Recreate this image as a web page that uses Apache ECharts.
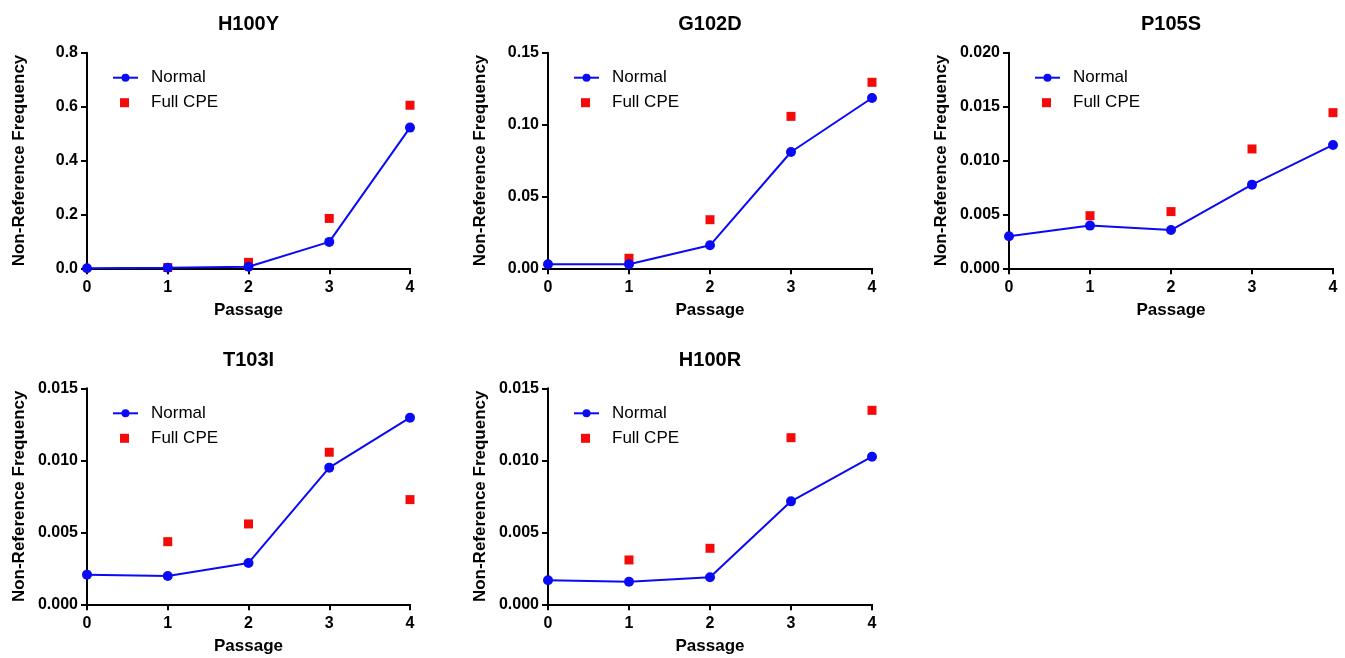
<!DOCTYPE html>
<html>
<head>
<meta charset="utf-8">
<script src="https://cdn.jsdelivr.net/npm/echarts@6/dist/echarts.min.js"></script>
<style>
html,body{margin:0;padding:0;background:#fff;}
#chart{width:1345px;height:658px;}
</style>
</head>
<body>
<div id="chart"></div>
<script>
// ---- data ----
const passages = [0, 1, 2, 3, 4];
const cpePassages = [1, 2, 3, 4];
const panelTitles = ['H100Y', 'G102D', 'P105S', 'T103I', 'H100R'];
const seriesNames = ['Normal', 'Full CPE'];

const normalH100Y = [0.000, 0.002, 0.006, 0.098, 0.522];
const cpeH100Y    = [0.003, 0.022, 0.185, 0.605];

const normalG102D = [0.0028, 0.0028, 0.0160, 0.0809, 0.1185];
const cpeG102D    = [0.0070, 0.0338, 0.1057, 0.1294];

const normalP105S = [0.00297, 0.00396, 0.00355, 0.00776, 0.01144];
const cpeP105S    = [0.00488, 0.00526, 0.01107, 0.01444];

const normalT103I = [0.00206, 0.00197, 0.00287, 0.00949, 0.01296];
const cpeT103I    = [0.00435, 0.00558, 0.01056, 0.00727];

const normalH100R = [0.00167, 0.00157, 0.00188, 0.00715, 0.01025];
const cpeH100R    = [0.00308, 0.00389, 0.01157, 0.01347];

const yMaxes     = [0.8, 0.15, 0.020, 0.015, 0.015];
const yIntervals = [0.2, 0.05, 0.005, 0.005, 0.005];
const yDecimals  = [1, 2, 3, 3, 3];
const xTickLabels = ['0', '1', '2', '3', '4'];

const normals = [normalH100Y, normalG102D, normalP105S, normalT103I, normalH100R];
const cpes    = [cpeH100Y, cpeG102D, cpeP105S, cpeT103I, cpeH100R];

// ---- layout ----
const gridPos = [
  {left: 87,  top: 52.7,  width: 323, height: 215.6},
  {left: 548, top: 52.7,  width: 324, height: 215.6},
  {left: 1009,top: 52.7,  width: 324, height: 215.6},
  {left: 87,  top: 388.3, width: 323, height: 216},
  {left: 548, top: 388.3, width: 324, height: 216}
];
const FONT = "'Liberation Sans', Arial, sans-serif";
const BLUE = '#0a0af5';
const RED = '#f50a0a';

const grids = [], xAxes = [], yAxes = [], series = [], titles = [], legends = [];
gridPos.forEach((g, i) => {
  grids.push({left: g.left, top: g.top, width: g.width, height: g.height, containLabel: false});
  titles.push({
    text: panelTitles[i],
    left: g.left + g.width / 2 - 5,
    top: g.top - 43,
    textAlign: 'center',
    textStyle: {fontFamily: FONT, fontWeight: 'bold', fontSize: 20, color: '#000'}
  });
  xAxes.push({
    gridIndex: i, type: 'value', min: 0, max: 4, interval: 1,
    name: 'Passage', nameLocation: 'middle', nameGap: 34,
    nameTextStyle: {fontFamily: FONT, fontWeight: 'bold', fontSize: 17, color: '#000'},
    axisLine: {onZero: false, lineStyle: {color: '#000', width: 2}},
    axisTick: {show: true, length: 6, lineStyle: {color: '#000', width: 2}},
    axisLabel: {margin: 11, fontFamily: FONT, fontWeight: 'bold', fontSize: 16, color: '#000',
      formatter: v => xTickLabels[Math.round(v)]},
    splitLine: {show: false}
  });
  yAxes.push({
    gridIndex: i, type: 'value', min: 0, max: yMaxes[i], interval: yIntervals[i],
    name: 'Non-Reference Frequency', nameLocation: 'middle', nameGap: 59, nameRotate: 90,
    nameTextStyle: {fontFamily: FONT, fontWeight: 'bold', fontSize: 17, color: '#000'},
    axisLine: {show: true, onZero: false, lineStyle: {color: '#000', width: 2}},
    axisTick: {show: true, length: 6, lineStyle: {color: '#000', width: 2}},
    axisLabel: {margin: 9, fontFamily: FONT, fontWeight: 'bold', fontSize: 16, color: '#000',
      formatter: v => v.toFixed(yDecimals[i])},
    splitLine: {show: false}
  });
  series.push({
    name: seriesNames[1], type: 'scatter', xAxisIndex: i, yAxisIndex: i,
    symbol: 'rect', symbolSize: 9, itemStyle: {color: RED, opacity: 1},
    data: cpePassages.map((p, k) => [p, cpes[i][k]]), z: 2
  });
  series.push({
    name: seriesNames[0], type: 'line', xAxisIndex: i, yAxisIndex: i,
    symbol: 'circle', symbolSize: 10, showSymbol: true,
    lineStyle: {color: BLUE, width: 2}, itemStyle: {color: BLUE, opacity: 1},
    data: passages.map((p, k) => [p, normals[i][k]]), z: 3
  });
  const legTop = g.top + 11;
  legends.push({
    data: [seriesNames[0]],
    orient: 'vertical',
    left: g.left + 20,
    top: legTop,
    itemWidth: 25, itemHeight: 10,
    selectedMode: false,
    textStyle: {fontFamily: FONT, fontSize: 17, color: '#000', lineHeight: 18, padding: [0, 0, 0, 8]}
  });
  legends.push({
    data: [{name: seriesNames[1], icon: 'rect', itemStyle: {color: RED, opacity: 1}}],
    orient: 'vertical',
    left: g.left + 28,
    top: legTop + 25,
    itemWidth: 9, itemHeight: 9,
    selectedMode: false,
    textStyle: {fontFamily: FONT, fontSize: 17, color: '#000', lineHeight: 18, padding: [0, 0, 0, 17]}
  });
});

const chart = echarts.init(document.getElementById('chart'), null, {renderer: 'canvas'});
chart.setOption({
  animation: false,
  backgroundColor: '#fff',
  title: titles,
  grid: grids,
  xAxis: xAxes,
  yAxis: yAxes,
  legend: legends,
  series: series
});
</script>
</body>
</html>
